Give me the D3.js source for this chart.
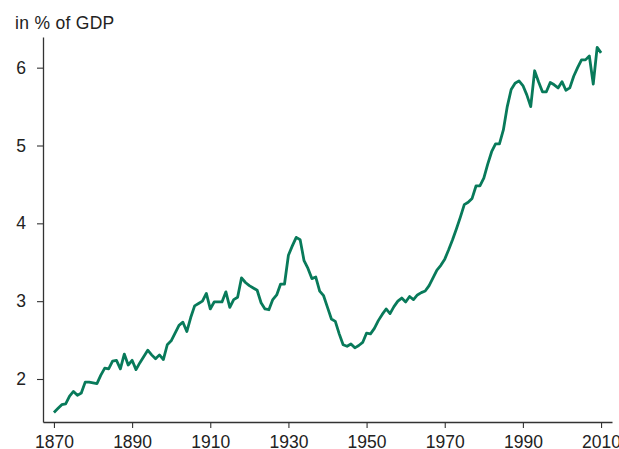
<!DOCTYPE html>
<html>
<head>
<meta charset="utf-8">
<script src="https://cdn.jsdelivr.net/npm/d3@7"></script>
<style>
  html, body { margin: 0; padding: 0; background: #fff; }
  svg { display: block; }
  text { font-family: "Liberation Sans", Arial, Helvetica, sans-serif; fill: #222; }
</style>
</head>
<body>
<svg id="chart" width="619" height="449"></svg>
<script>
// Annual share of GDP, 1870–2010
const years = d3.range(1870, 2011);
const values = [
  1.57, 1.62, 1.67, 1.68, 1.78, 1.84, 1.79, 1.82, 1.96, 1.96,
  1.95, 1.94, 2.05, 2.14, 2.13, 2.23, 2.24, 2.13, 2.32, 2.18,
  2.24, 2.12, 2.21, 2.29, 2.37, 2.31, 2.26, 2.31, 2.25, 2.44,
  2.49, 2.59, 2.69, 2.73, 2.61, 2.79, 2.94, 2.97, 3.00, 3.10,
  2.90, 2.99, 2.99, 2.99, 3.12, 2.92, 3.02, 3.05, 3.30, 3.24,
  3.20, 3.17, 3.14, 2.98, 2.90, 2.89, 3.02, 3.08, 3.22, 3.22,
  3.59, 3.71, 3.82, 3.79, 3.52, 3.42, 3.29, 3.31, 3.13, 3.07,
  2.92, 2.77, 2.74, 2.58, 2.44, 2.42, 2.45, 2.40, 2.43, 2.47,
  2.59, 2.58, 2.65, 2.75, 2.83, 2.90, 2.84, 2.93, 3.00, 3.04,
  2.99, 3.06, 3.02, 3.08, 3.11, 3.13, 3.20, 3.30, 3.40, 3.46,
  3.54, 3.66, 3.79, 3.93, 4.08, 4.24, 4.27, 4.32, 4.48, 4.48,
  4.58, 4.76, 4.92, 5.02, 5.02, 5.20, 5.50, 5.72, 5.80, 5.83,
  5.77, 5.65, 5.50, 5.96, 5.82, 5.69, 5.69, 5.81, 5.78, 5.74,
  5.82, 5.71, 5.74, 5.89, 6.00, 6.10, 6.10, 6.15, 5.79, 6.26,
  6.19
];
const xTicks = [1870, 1890, 1910, 1930, 1950, 1970, 1990, 2010];
const yTicks = [2, 3, 4, 5, 6];
const unitLabel = "in % of GDP";

const series = years.map((yr, i) => ({ year: yr, value: values[i] }));

const svg = d3.select("#chart");

const x = d3.scaleLinear().domain([1867.2, 2012.8]).range([43, 612]);
const y = d3.scaleLinear().domain([1.4475, 6.394]).range([422, 37]);

const fontSize = "17.5px";
const axisColor = "#333";

// x axis
const gx = svg.append("g")
  .attr("transform", "translate(0,422)")
  .call(d3.axisBottom(x).tickValues(xTicks).tickFormat(d3.format("d"))
    .tickSize(6).tickSizeOuter(0).tickPadding(8));
gx.select(".domain").attr("stroke", axisColor).attr("stroke-width", 1.3);
gx.selectAll(".tick line").attr("stroke", axisColor).attr("stroke-width", 1.1);
gx.selectAll(".tick text").style("font-size", fontSize)
  .style("font-family", "'Liberation Sans', Arial, sans-serif").attr("fill", "#222");

// y axis
const gy = svg.append("g")
  .attr("transform", "translate(43,0)")
  .call(d3.axisLeft(y).tickValues(yTicks).tickFormat(d3.format("d"))
    .tickSize(6).tickSizeOuter(0).tickPadding(11));
gy.select(".domain").attr("stroke", axisColor).attr("stroke-width", 1.3);
gy.selectAll(".tick line").attr("stroke", axisColor).attr("stroke-width", 1.1);
gy.selectAll(".tick text").style("font-size", fontSize)
  .style("font-family", "'Liberation Sans', Arial, sans-serif").attr("fill", "#222");

// unit label
svg.append("text")
  .attr("x", 15)
  .attr("y", 29)
  .style("font-size", fontSize)
  .style("letter-spacing", "0.3px")
  .text(unitLabel);

// series line
const line = d3.line()
  .x(d => x(d.year))
  .y(d => y(d.value));

svg.append("path")
  .datum(series)
  .attr("fill", "none")
  .attr("stroke", "#087a5a")
  .attr("stroke-width", 2.8)
  .attr("stroke-linejoin", "round")
  .attr("stroke-linecap", "butt")
  .attr("d", line);
</script>
</body>
</html>
